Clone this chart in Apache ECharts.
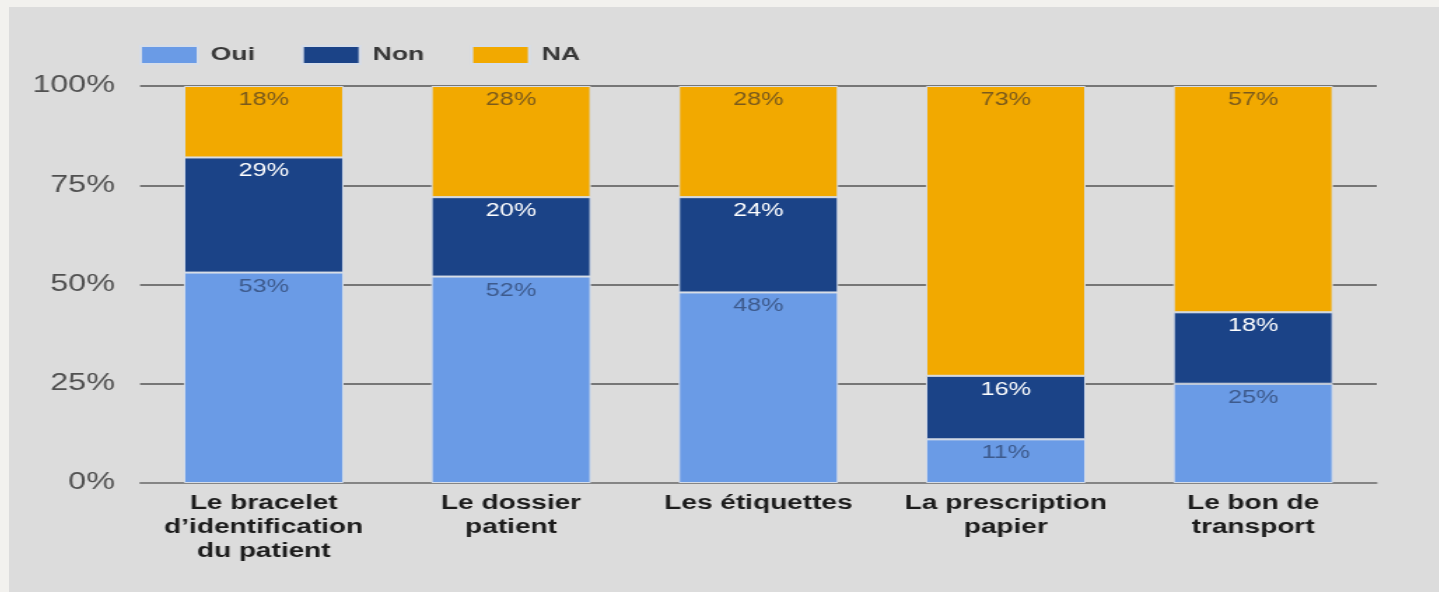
<!DOCTYPE html>
<html>
<head>
<meta charset="utf-8">
<script src="https://cdn.jsdelivr.net/npm/echarts@6/dist/echarts.min.js"></script>
<style>
  html, body { margin: 0; padding: 0; background: #f2f1ee; overflow: hidden; }
  #panel { position: absolute; left: 9px; top: 7px; width: 1430px; height: 585px; background: #dcdcdc; overflow: hidden; }
  /* the source picture is stretched sideways, so the chart is drawn narrow and widened */
  #chart { position: absolute; left: 0; top: 0; width: 1021px; height: 585px; transform: scaleX(1.4); transform-origin: left top; }
</style>
</head>
<body>
<div id="panel"><div id="chart"></div></div>
<script>
// categories and values (percent)
const categories = [
    "Le bracelet\nd’identification\ndu patient",
    "Le dossier\npatient",
    "Les étiquettes",
    "La prescription\npapier",
    "Le bon de\ntransport"
];
const oui = [53, 52, 48, 11, 25];
const non = [29, 20, 24, 16, 18];
const na = [18, 28, 28, 73, 57];
const yTicks = [0, 25, 50, 75, 100];

const font = "'Liberation Sans', Arial, sans-serif";

function seg(name, data, color, labelColor) {
    return {
        name: name,
        type: 'bar',
        stack: 'total',
        data: data,
        barWidth: 114,
        itemStyle: { color: color, borderColor: '#d6dde8', borderWidth: 1 },
        label: {
            show: true,
            position: 'insideTop',
            distance: 5,
            formatter: '{c}%',
            color: labelColor,
            fontFamily: font,
            fontSize: 18
        }
    };
}

const chart = echarts.init(document.getElementById('chart'));
chart.setOption({
    animation: false,
    textStyle: { fontFamily: font },
    legend: {
        left: 88,
        top: 33,
        itemWidth: 41,
        itemHeight: 18,
        itemGap: 33,
        icon: 'rect',
        textStyle: { fontFamily: font, fontSize: 19, fontWeight: 'bold', color: '#383838', padding: [0, 0, 0, 4] },
        data: ['Oui', 'Non', 'NA']
    },
    grid: { left: 93.6, right: 44, top: 79, bottom: 109 },
    xAxis: {
        type: 'category',
        data: categories,
        axisTick: { show: false },
        axisLine: { lineStyle: { color: '#8a8a8a', width: 1.5 } },
        axisLabel: {
            margin: 8,
            interval: 0,
            color: '#1c1c1c',
            fontFamily: font,
            fontSize: 20,
            fontWeight: 'bold',
            lineHeight: 24
        }
    },
    yAxis: {
        type: 'value',
        min: yTicks[0],
        max: yTicks[yTicks.length - 1],
        interval: 25,
        axisLine: { show: false },
        axisTick: { show: false },
        axisLabel: {
            margin: 18,
            formatter: '{value}%',
            color: '#505050',
            fontFamily: font,
            fontSize: 23
        },
        splitLine: { lineStyle: { color: '#555', width: 1.5 } }
    },
    series: [
        seg('Oui', oui, '#6a9be6', '#3d5a8c'),
        seg('Non', non, '#1b4387', '#ffffff'),
        seg('NA', na, '#f2a900', '#7a5a1c')
    ]
});
</script>
</body>
</html>
